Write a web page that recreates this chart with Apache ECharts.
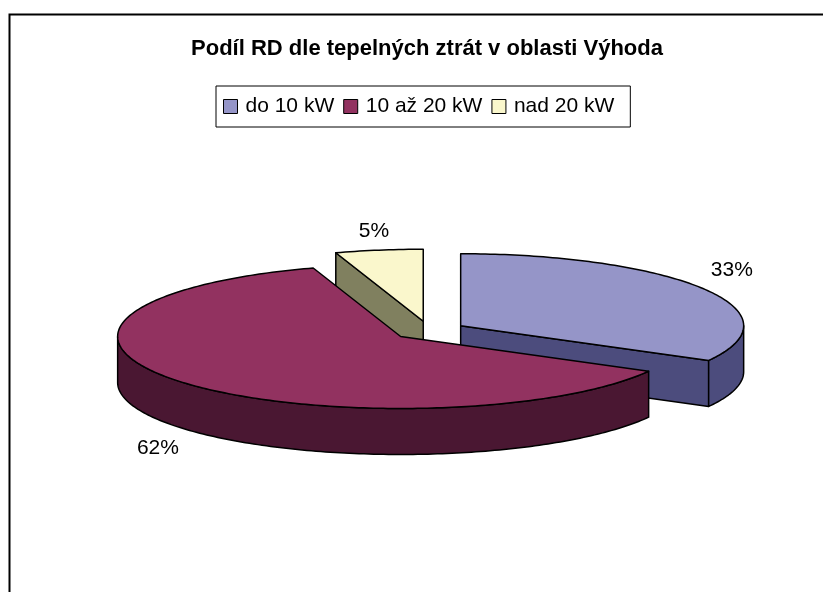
<!DOCTYPE html>
<html lang="cs">
<head>
<meta charset="UTF-8">
<title>Podíl RD dle tepelných ztrát v oblasti Výhoda</title>
<script src="https://cdn.jsdelivr.net/npm/echarts@6/dist/echarts.min.js"></script>
<style>
    html, body { margin: 0; padding: 0; background: #fff; }
    #main { width: 823px; height: 592px; }
</style>
</head>
<body>
<div id="main"></div>
<script type="text/javascript">
    // kategorie a podíly (%)
    var categories = ['do 10 kW', '10 až 20 kW', 'nad 20 kW'];
    var shares = [33, 62, 5];

    var topColors = ['#9595c8', '#923260', '#faf7cc'];
    var sideColors = ['#4c4c7d', '#4a1732', '#80805f'];

    // pseudo 3D kolac (stred, poloosy, vyska, vysunuti dilku)
    var CX = 429, CY = 330.5, RX = 283, RY = 72, DEPTH = 46, EXPLODE = 0.13;

    var total = 0;
    for (var k = 0; k < shares.length; k++) total += shares[k];
    var startAngles = [];
    var acc = 0;
    for (var k = 0; k < shares.length; k++) {
        startAngles.push(acc / total * 360);
        acc += shares[k];
    }

    function rad(d) { return d * Math.PI / 180; }
    // uhel po smeru hodin od 12 hodin
    function pt(ox, oy, a, dy) {
        return [ox + RX * Math.sin(rad(a)), oy - RY * Math.cos(rad(a)) + (dy || 0)];
    }
    function arc(ox, oy, a0, a1, dy) {
        var pts = [];
        var n = Math.max(2, Math.ceil(Math.abs(a1 - a0)));
        for (var j = 0; j <= n; j++) pts.push(pt(ox, oy, a0 + (a1 - a0) * j / n, dy));
        return pts;
    }

    function renderSlice(params, api) {
        var i = params.seriesIndex;
        var value = api.value(0);
        var a0 = startAngles[i];
        var a1 = a0 + value / total * 360;
        var mid = (a0 + a1) / 2;
        var ox = CX + EXPLODE * RX * Math.sin(rad(mid));
        var oy = CY - EXPLODE * RY * Math.cos(rad(mid));
        var back = Math.round((1 - Math.cos(rad(mid))) * 10);
        var children = [];

        function face(points, fill, z2) {
            children.push({
                type: 'polygon',
                z2: z2,
                shape: { points: points },
                style: { fill: fill, stroke: '#000', lineWidth: 1.5, lineJoin: 'round' }
            });
        }

        // bocni rezy
        if (Math.sin(rad(a0)) < -1e-6) {
            var p0 = pt(ox, oy, a0);
            face([[ox, oy], p0, [p0[0], p0[1] + DEPTH], [ox, oy + DEPTH]], sideColors[i], back);
        }
        if (Math.sin(rad(a1)) > 1e-6) {
            var p1 = pt(ox, oy, a1);
            face([[ox, oy], p1, [p1[0], p1[1] + DEPTH], [ox, oy + DEPTH]], sideColors[i], back);
        }
        // vnejsi plast
        var s = Math.max(a0, 90), e = Math.min(a1, 270);
        if (e > s) {
            face(arc(ox, oy, s, e).concat(arc(ox, oy, e, s, DEPTH)), sideColors[i], back);
        }
        // horni plocha
        face([[ox, oy]].concat(arc(ox, oy, a0, a1)), topColors[i], 100);

        // popisek
        var front = Math.cos(rad(mid)) < 0;
        var ep = pt(ox, oy, mid, front ? DEPTH : 0);
        children.push({
            type: 'text',
            z2: 110,
            style: {
                text: Math.round(value / total * 100) + '%',
                x: ep[0] + 32 * Math.sin(rad(mid)),
                y: ep[1] + (front ? 20 : -19),
                align: 'center',
                verticalAlign: 'middle',
                font: '21px "Liberation Sans", Arial, sans-serif',
                fill: '#000'
            }
        });
        return { type: 'group', children: children };
    }

    var series = categories.map(function (name, i) {
        return {
            type: 'custom',
            name: name,
            coordinateSystem: 'none',
            renderItem: renderSlice,
            itemStyle: { color: topColors[i] },
            silent: true,
            data: [shares[i]]
        };
    });

    var myChart = echarts.init(document.getElementById('main'));
    var option = {
        animation: false,
        backgroundColor: '#fff',
        title: {
            text: 'Podíl RD dle tepelných ztrát v oblasti Výhoda',
            left: 422,
            top: 33,
            textAlign: 'center',
            textStyle: { fontFamily: 'Liberation Sans', fontWeight: 'bold', fontSize: 22, color: '#000' }
        },
        legend: {
            data: categories,
            left: 216,
            top: 86,
            icon: 'rect',
            itemWidth: 14,
            itemHeight: 14,
            itemGap: 9,
            padding: [10, 16, 10, 7],
            borderColor: '#000',
            borderWidth: 1,
            selectedMode: false,
            itemStyle: { borderColor: '#000', borderWidth: 1 },
            textStyle: { fontFamily: 'Liberation Sans', fontSize: 21, color: '#000', padding: [0, 0, 0, 3] }
        },
        graphic: [{
            type: 'rect',
            shape: { x: 9.5, y: 14.5, width: 900, height: 700 },
            style: { fill: 'none', stroke: '#000', lineWidth: 2 },
            silent: true
        }],
        series: series
    };
    myChart.setOption(option);
</script>
</body>
</html>
